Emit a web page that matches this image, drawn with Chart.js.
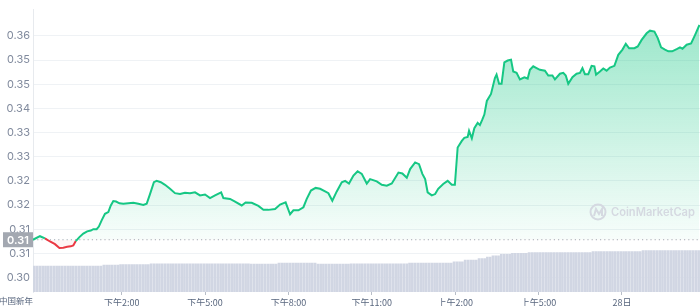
<!DOCTYPE html>
<html>
<head>
<meta charset="utf-8">
<script src="https://cdn.jsdelivr.net/npm/chart.js@4.4.0/dist/chart.umd.min.js"></script>
<style>
  html, body { margin: 0; padding: 0; background: #ffffff; }
  #wrap { width: 700px; height: 306px; position: relative; }
</style>
</head>
<body>
<div id="wrap"><canvas id="c"></canvas></div>
<script>
// ---- data ----
const startHour = 10.81;            // chart starts ~10:49
const spanHours = 24;
const basePrice = 0.3101;           // opening price (dotted line)
const baseLabel = '0.31';

const hours = [
  0,0.25,0.43,0.61,0.79,0.95,1.09,1.23,1.36,1.45,
  1.54,1.67,1.81,1.95,2.08,2.17,2.29,2.37,2.47,2.59,
  2.71,2.80,2.89,2.99,3.11,3.25,3.43,3.61,3.79,3.97,
  4.09,4.21,4.35,4.45,4.60,4.75,4.93,5.11,5.29,5.47,
  5.65,5.83,6.01,6.19,6.37,6.55,6.77,6.85,7.09,7.27,
  7.51,7.65,7.87,8.11,8.29,8.47,8.71,8.89,9.09,9.25,
  9.37,9.55,9.73,9.85,10.00,10.17,10.33,10.51,10.63,10.77,
  10.93,11.11,11.23,11.37,11.53,11.68,11.83,12.01,12.13,12.37,
  12.55,12.73,12.91,13.15,13.29,13.45,13.57,13.75,13.89,14.01,
  14.11,14.20,14.35,14.47,14.58,14.76,14.92,15.07,15.18,15.28,
  15.43,15.52,15.64,15.69,15.79,15.88,16.00,16.08,16.17,16.24,
  16.33,16.48,16.62,16.68,16.77,16.86,16.96,17.08,17.20,17.28,
  17.40,17.52,17.68,17.80,17.88,18.00,18.12,18.24,18.42,18.54,
  18.69,18.78,18.96,19.08,19.17,19.26,19.41,19.56,19.68,19.77,
  19.86,19.98,20.10,20.20,20.26,20.40,20.52,20.64,20.76,20.92,
  21.06,21.21,21.33,21.45,21.64,21.76,21.90,22.08,22.20,22.36,
  22.48,22.60,22.74,22.86,23.00,23.16,23.28,23.37,23.52,23.68,
  23.82,23.98
];

const prices = [
  0.3101,0.3109,0.3104,0.3097,0.3091,0.3082,0.3083,0.3085,0.3086,0.3088,
  0.3098,0.3107,0.3115,0.3120,0.3122,0.3125,0.3125,0.3131,0.3145,0.3160,
  0.3164,0.3179,0.3189,0.3188,0.3184,0.3183,0.3184,0.3185,0.3183,0.3180,
  0.3183,0.3205,0.3232,0.3235,0.3232,0.3226,0.3217,0.3207,0.3205,0.3208,
  0.3207,0.3209,0.3202,0.3204,0.3196,0.3202,0.3209,0.3196,0.3194,0.3188,
  0.3179,0.3186,0.3185,0.3178,0.3169,0.3169,0.3171,0.3181,0.3186,0.3159,
  0.3168,0.3168,0.3175,0.3194,0.3213,0.3219,0.3217,0.3211,0.3207,0.3190,
  0.3211,0.3232,0.3235,0.3229,0.3247,0.3257,0.3251,0.3229,0.3239,0.3234,
  0.3226,0.3224,0.3229,0.3254,0.3252,0.3242,0.3262,0.3277,0.3273,0.3251,
  0.3239,0.3209,0.3202,0.3205,0.3217,0.3228,0.3235,0.3226,0.3226,0.3311,
  0.3326,0.3333,0.3335,0.3349,0.3332,0.3355,0.3367,0.3362,0.3375,0.3386,
  0.3417,0.3433,0.3469,0.3477,0.3456,0.3456,0.3505,0.3509,0.3511,0.3484,
  0.3481,0.3466,0.3471,0.3468,0.3488,0.3496,0.3492,0.3488,0.3486,0.3475,
  0.3475,0.3466,0.3479,0.3481,0.3475,0.3456,0.3471,0.3479,0.3481,0.3492,
  0.3478,0.3478,0.3497,0.3496,0.3477,0.3484,0.3491,0.3486,0.3493,0.3497,
  0.3522,0.3534,0.3547,0.3537,0.3537,0.3541,0.3556,0.3571,0.3577,0.3575,
  0.3560,0.3539,0.3534,0.3530,0.3530,0.3535,0.3539,0.3536,0.3545,0.3548,
  0.3567,0.3590
];

// 24h volume (millions), one bar every 6 minutes
const volumeStepHours = 0.1;
const volumes = [
  130,130,130,130,130,130,130,130,130,130,130,130,130,130,130,130,130,130,130,130,130,130,130,130,130,
  135,135,135,135,135,135,
  138,138,138,138,138,138,138,138,138,138,138,
  142,142,142,142,142,142,142,142,142,142,142,142,142,142,142,142,142,142,142,142,142,142,142,142,142,142,142,142,142,142,142,142,142,142,142,142,
  140,140,140,140,140,140,140,140,140,140,
  145,145,145,145,145,145,145,145,145,145,145,145,145,145,
  140,140,140,140,140,140,140,140,140,140,140,140,
  142,142,142,142,142,142,142,142,142,142,142,142,142,142,142,142,142,142,142,142,142,
  145,145,145,145,145,145,145,145,145,145,145,145,145,145,145,145,
  152,152,152,152,
  160,160,160,160,160,
  168,168,168,
  175,175,
  182,182,182,
  190,190,190,190,
  195,195,195,195,195,195,
  198,198,198,198,198,198,198,198,198,198,198,198,198,198,198,198,198,198,198,198,198,198,198,
  203,203,203,203,203,203,203,203,203,203,203,203,203,203,203,203,203,203,
  208,208,208,208,208,208,208,208,208,208,208,208,208,208,208,208,208,208,208,208,208
];
const volumeMax = 1420;

const yTickValues = [0.3015,0.307,0.3125,0.318,0.3235,0.329,0.3345,0.34,0.3455,0.351,0.3565];
const yTickLabels = ['0.30','0.31','0.31','0.32','0.32','0.33','0.33','0.34','0.35','0.35','0.36'];
const yMin = 0.2982, yMax = 0.3625;

const xTickValues = [14, 17, 20, 23, 26, 29, 32];
const xTickLabels = ['下午2:00','下午5:00','下午8:00','下午11:00','上午2:00','上午5:00','28日'];
const startLabel = '中国新年';
const watermark = 'CoinMarketCap';

// ---- chart ----
const GREEN = '#16c784', RED = '#ea3943';
const FONT = 'Inter, "Noto Sans CJK SC", "DejaVu Sans", sans-serif';
const XFONT = '"Noto Sans CJK SC", Inter, sans-serif';

const priceData = hours.map((h, i) => ({ x: startHour + h, y: prices[i] }));
const volData = volumes.map((v, i) => ({ x: startHour + volumeStepHours / 2 + i * volumeStepHours, y: v }));

const overlay = {
  id: 'overlay',
  afterDraw(chart) {
    const ctx = chart.ctx;
    const ys = chart.scales.y, xs = chart.scales.x;
    const ca = chart.chartArea;
    ctx.save();
    // watermark
    ctx.strokeStyle = '#d5d9e1';
    ctx.lineWidth = 2;
    ctx.beginPath();
    ctx.arc(598, 212, 7.5, 0, Math.PI * 2);
    ctx.stroke();
    ctx.beginPath();
    ctx.moveTo(594, 216); ctx.lineTo(596, 209); ctx.lineTo(599, 214); ctx.lineTo(602, 209); ctx.lineTo(602, 216);
    ctx.stroke();
    ctx.fillStyle = '#d5d9e1';
    let fs = 12.5;
    ctx.font = '600 ' + fs + 'px ' + FONT;
    const w = ctx.measureText(watermark).width;
    if (w > 84) { fs = fs * 84 / w; ctx.font = '600 ' + fs.toFixed(2) + 'px ' + FONT; }
    ctx.textAlign = 'left';
    ctx.textBaseline = 'middle';
    ctx.fillText(watermark, 611, 212.5);

    // open price label on y axis
    const py = ys.getPixelForValue(basePrice);
    ctx.fillStyle = '#a3a8b1';
    ctx.fillRect(3, py - 7.5, ca.left - 3, 15);
    ctx.fillStyle = '#ffffff';
    ctx.font = '600 11px ' + FONT;
    ctx.textAlign = 'center';
    ctx.fillText(baseLabel, 3 + (ca.left - 3) / 2, py + 0.5);

    // start label on x axis
    ctx.fillStyle = '#58667e';
    ctx.font = '8.5px ' + XFONT;
    ctx.textAlign = 'right';
    ctx.textBaseline = 'middle';
    ctx.fillText(startLabel, xs.getPixelForValue(startHour), 301);
    ctx.restore();
  }
};

new Chart(document.getElementById('c'), {
  data: {
    datasets: [
      {
        type: 'line',
        data: priceData,
        yAxisID: 'y',
        borderWidth: 2,
        borderColor: GREEN,
        pointRadius: 0,
        tension: 0,
        order: 1,
        segment: {
          borderColor: c => ((c.p0.parsed.y + c.p1.parsed.y) / 2 < basePrice ? RED : GREEN)
        },
        fill: { target: { value: basePrice }, below: 'rgba(234,57,67,0.05)' },
        backgroundColor: (c) => {
          const chart = c.chart;
          const ca = chart.chartArea;
          if (!ca) return 'rgba(22,199,132,0.15)';
          const by = chart.scales.y.getPixelForValue(basePrice);
          const g = chart.ctx.createLinearGradient(0, ca.top, 0, by);
          g.addColorStop(0, 'rgba(22,199,132,0.45)');
          g.addColorStop(1, 'rgba(22,199,132,0.03)');
          return g;
        }
      },
      {
        type: 'line',
        data: [{ x: startHour, y: basePrice }, { x: startHour + spanHours, y: basePrice }],
        yAxisID: 'y',
        borderColor: '#a6acb6',
        borderWidth: 1,
        borderDash: [1.2, 3],
        pointRadius: 0,
        fill: false,
        order: 2
      },
      {
        type: 'bar',
        data: volData,
        yAxisID: 'vol',
        backgroundColor: '#d1d6e3',
        barThickness: 2,
        order: 3
      }
    ]
  },
  options: {
    responsive: true,
    maintainAspectRatio: false,
    animation: false,
    layout: { padding: { top: 8, right: 0, left: 0, bottom: 0 } },
    plugins: { legend: { display: false }, tooltip: { enabled: false } },
    scales: {
      x: {
        type: 'linear',
        offset: false,
        min: startHour,
        max: startHour + spanHours,
        afterBuildTicks: s => { s.ticks = xTickValues.map(v => ({ value: v })); },
        afterFit: s => { s.height = 14; },
        ticks: {
          autoSkip: false,
          maxRotation: 0,
          padding: 2,
          color: '#58667e',
          font: { family: XFONT, size: 9 },
          callback: (v, i) => xTickLabels[i]
        },
        grid: { offset: false, drawOnChartArea: false, drawTicks: true, tickLength: 3, color: '#b8bec8' },
        border: { display: false }
      },
      y: {
        type: 'linear',
        position: 'left',
        min: yMin,
        max: yMax,
        afterBuildTicks: s => { s.ticks = yTickValues.map(v => ({ value: v })); },
        afterFit: s => { s.width = 33; },
        ticks: {
          padding: 3,
          color: '#808a9d',
          font: { family: FONT, size: 11 },
          callback: (v, i) => yTickLabels[i]
        },
        grid: { drawTicks: false, color: '#eff2f5', lineWidth: 1 },
        border: { display: true, color: '#e7eaee' }
      },
      vol: {
        type: 'linear',
        display: false,
        min: 0,
        max: volumeMax
      }
    }
  },
  plugins: [overlay]
});
</script>
</body>
</html>
